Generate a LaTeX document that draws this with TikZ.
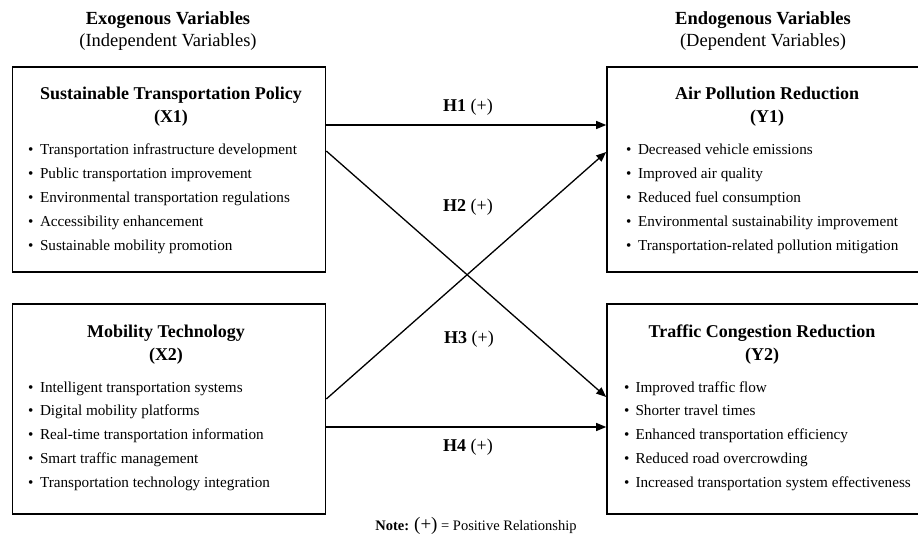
\documentclass[tikz,border=0pt]{standalone}
\usepackage{fontspec}
\setmainfont{Liberation Serif}
\usetikzlibrary{arrows.meta,positioning}

\tikzset{
  varbox/.style={draw,line width=1.6pt,minimum width=313pt,inner sep=0pt},
  boxtitle/.style={font=\fontsize{18}{23}\bfseries\selectfont,align=center,inner sep=0pt},
  bulletitem/.style={anchor=base west,font=\fontsize{15.2}{18}\selectfont,inner sep=0pt},
  header/.style={font=\fontsize{18.5}{22}\selectfont,align=center,inner sep=0pt},
  hyp/.style={-{Triangle[length=10pt,width=8pt]},line width=1.3pt},
  hyplabel/.style={font=\fontsize{18}{20}\selectfont,inner sep=0pt}
}

\begin{document}
\begin{tikzpicture}[x=1pt,y=-1pt]
      \useasboundingbox (0,0) rectangle (918,556);

      % headers
      \node[header] (exo) at (168,31) {\textbf{Exogenous Variables}\\(Independent Variables)};
      \node[header] (endo) at (763,31) {\textbf{Endogenous Variables}\\(Dependent Variables)};

      % boxes
      \node[varbox,minimum height=205pt] (x1) at (169,169.5) {};
      \node[varbox,minimum height=210pt] (x2) at (169,409) {};
      \node[varbox,minimum height=205pt] (y1) at (763.5,169.5) {};
      \node[varbox,minimum height=210pt] (y2) at (763.5,409) {};

      \node[boxtitle] (x1title) at (171,106.5) {Sustainable Transportation Policy\\(X1)};
      \node[boxtitle] (x2title) at (166,344.5) {Mobility Technology\\(X2)};
      \node[boxtitle] (y1title) at (767,106.5) {Air Pollution Reduction\\(Y1)};
      \node[boxtitle] (y2title) at (762,344.5) {Traffic Congestion Reduction\\(Y2)};

      \def\dy{23.9}
      \foreach \txt [count=\i] in {Transportation infrastructure development,
          Public transportation improvement, Environmental transportation regulations,
          Accessibility enhancement, Sustainable mobility promotion} {
          \pgfmathsetmacro\yy{155+(\i-1)*\dy}
          \node[bulletitem] (x1b\i) at (28,\yy) {\textbullet\hspace{6.5pt}\txt};
        }
      \foreach \txt [count=\i] in {Intelligent transportation systems,
          Digital mobility platforms, Real-time transportation information,
          Smart traffic management, Transportation technology integration} {
          \pgfmathsetmacro\yy{392+(\i-1)*\dy}
          \node[bulletitem] (x2b\i) at (28,\yy) {\textbullet\hspace{6.5pt}\txt};
        }
      \foreach \txt [count=\i] in {Decreased vehicle emissions,
          Improved air quality, Reduced fuel consumption,
          Environmental sustainability improvement, Transportation-related pollution mitigation} {
          \pgfmathsetmacro\yy{155+(\i-1)*\dy}
          \node[bulletitem] (y1b\i) at (626,\yy) {\textbullet\hspace{6.5pt}\txt};
        }
      \foreach \txt [count=\i] in {Improved traffic flow,
          Shorter travel times, Enhanced transportation efficiency,
          Reduced road overcrowding, Increased transportation system effectiveness} {
          \pgfmathsetmacro\yy{392+(\i-1)*\dy}
          \node[bulletitem] (y2b\i) at (624,\yy) {\textbullet\hspace{6pt}\txt};
        }

      % hypotheses
      \draw[hyp] ([yshift=44.5pt]x1.east) -- ([yshift=44.5pt]y1.west);
      \draw[hyp] ([yshift=18.5pt]x1.east) -- ([yshift=12pt]y2.west);
      \draw[hyp] ([yshift=10pt]x2.east) -- ([yshift=17.5pt]y1.west);
      \draw[hyp] ([yshift=-18pt]x2.east) -- ([yshift=-18pt]y2.west);

      \node[hyplabel] (h1) at (468,107) {\textbf{H1} (+)};
      \node[hyplabel] (h2) at (468,207) {\textbf{H2} (+)};
      \node[hyplabel] (h3) at (469,339) {\textbf{H3} (+)};
      \node[hyplabel] (h4) at (468,447) {\textbf{H4} (+)};

      \node[font=\fontsize{14.5}{18}\selectfont,inner sep=0pt] (note) at (476,526)
        {\textbf{Note:}\hspace{5pt}{\fontsize{19}{20}\selectfont(+)} = Positive Relationship};
    \end{tikzpicture}
\end{document}
